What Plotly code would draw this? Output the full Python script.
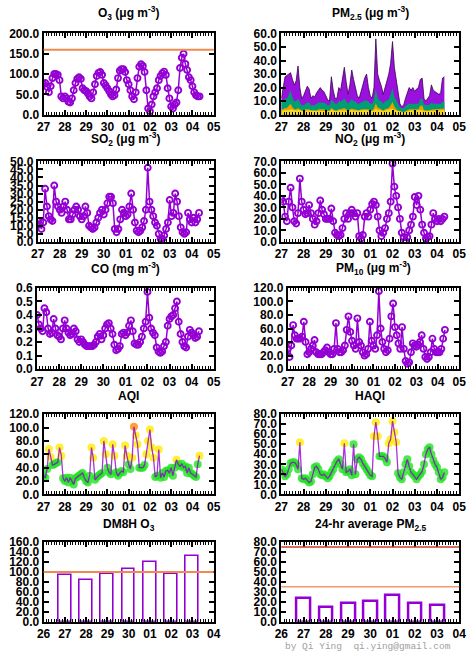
import plotly.graph_objects as go
import pandas as pd

W, H = 473, 659

# ---------------- data (2-hourly, from 27 00:00) ----------------
START = "2017-04-27 00:00"
hours = list(range(0, 177, 2))
times = pd.Timestamp(START) + pd.to_timedelta(hours, unit="h")

o3 = [75, 78, 68, 55, 70, 90, 100, 100, 98, 85,
      45, 40, 45, 40, 32, 30, 40, 60, 78, 88,
      92, 88, 65, 60, 58, 52, 45, 40, 55, 75,
      95, 103, 105, 98, 78, 72, 65, 58, 50, 45,
      48, 62, 90, 108, 112, 112, 105, 85, 75, 60,
      45, 38, 55, 90, 118, 124, 120, 105, 60, 15,
      8, 25, 45, 55, 65, 85, 95, 102, 106, 98,
      65, 40, 20, 15, 25, 30, 60, 115, 140, 150,
      125, 110, 92, 85, 70, 55, 48, 45, 45]
o3_limit = 160

pm25_total = [12, 22, 28, 29, 30, 31, 26, 22, 25, 36,
              20, 12, 14, 18, 21, 19, 12, 14, 13, 16,
              18, 20, 18, 17, 14, 11, 10, 28, 18, 12,
              12, 20, 18, 28, 35, 24, 15, 22, 33, 26,
              20, 14, 12, 18, 22, 27, 30, 20, 14, 12,
              20, 56, 30, 25, 21, 15, 20, 27, 30, 38,
              54, 35, 25, 15, 8, 6, 7, 12, 16, 20,
              18, 20, 17, 19, 20, 26, 27, 12, 10, 12,
              14, 22, 18, 17, 16, 15, 16, 27, 28]
pm25_yellow = [3, 3, 3.5, 3.5, 3.5, 4, 3.5, 3, 3, 3.5,
               3, 2.5, 2.5, 3, 3, 3, 2.5, 2.5, 2.5, 2.5,
               3, 3, 3, 3, 2.5, 2.5, 2.5, 3.5, 3, 2.5,
               2.5, 3, 3, 3.5, 3.5, 3, 2.5, 3, 3.5, 3,
               3, 2.5, 2.5, 3, 3, 3.5, 3.5, 3, 2.5, 2.5,
               3, 4.5, 3.5, 3.5, 3, 2.5, 3, 3.5, 3.5, 4,
               4.5, 3.5, 3, 2.5, 2, 1.5, 1.5, 2, 2.5, 3,
               3, 3, 3, 3, 3, 3.5, 3.5, 2.5, 2.5, 2.5,
               2.5, 3, 3, 3, 3, 3, 3, 3.5, 3.5]
pm25_orange = [1, 1, 1.5, 1.5, 3, 4, 2, 1, 1, 1.5,
               1, 0.5, 0.5, 1, 1, 1, 0.5, 0.5, 0.5, 0.5,
               1, 1, 1, 1, 0.5, 0.5, 0.5, 1.5, 1, 0.5,
               0.5, 1, 1, 1, 1.5, 1, 0.5, 1, 1, 1,
               1, 0.5, 0.5, 1, 1, 1, 1, 1, 0.5, 0.5,
               2, 4, 2, 1, 1, 0.5, 1, 1, 1.5, 3,
               5, 2.5, 1, 0.5, 0.5, 0.5, 0.5, 0.5, 1, 1,
               1, 1, 1, 1, 1, 3, 3.5, 1, 0.5, 0.5,
               1, 1, 1, 1, 1, 1, 1, 1, 1]
pm25_teal = [5, 6, 7, 7, 8, 10, 7, 6, 6, 7,
             5, 4, 4, 4, 5, 5, 4, 4, 4, 5,
             5, 5, 5, 5, 5, 4, 4, 6, 6, 5,
             5, 6, 6, 6, 7, 6, 5, 6, 7, 6,
             6, 5, 5, 5, 6, 6, 6, 6, 5, 5,
             6, 10, 7, 6, 6, 5, 6, 6, 6, 8,
             10, 7, 6, 5, 3, 2.5, 3, 4, 4, 4,
             4, 4, 4, 4, 4, 5, 5, 4, 4, 4,
             4, 5, 4, 4, 4, 4, 4, 5, 5]

so2 = [13, 11, 8, 12, 33, 22, 16, 14, 13, 35,
       25, 22, 20, 18, 22, 25, 20, 14, 14, 17,
       20, 22, 20, 16, 14, 16, 22, 18, 10, 9,
       8, 9, 12, 15, 18, 20, 17, 20, 24, 28,
       28, 24, 8, 6, 8, 14, 20, 18, 16, 17,
       22, 30, 20, 12, 7, 6, 7, 9, 13, 20,
       46, 25, 20, 16, 12, 10, 5, 2, 2, 4,
       8, 12, 26, 16, 18, 30, 25, 16, 9, 6,
       5, 6, 18, 14, 12, 15, 12, 14, 18]

no2 = [37, 35, 22, 18, 35, 47, 30, 18, 16, 25,
       55, 35, 28, 24, 25, 32, 25, 20, 15, 18,
       25, 36, 28, 24, 20, 20, 20, 29, 18, 8,
       6, 5, 6, 12, 20, 25, 20, 25, 28, 25,
       22, 25, 5, 3, 6, 22, 25, 22, 28, 33,
       35, 32, 22, 10, 5, 8, 12, 20, 25, 35,
       68, 48, 40, 30, 20, 8, 4, 1, 4, 10,
       15, 22, 39, 32, 40, 28, 15, 8, 3, 4,
       5, 15, 25, 20, 18, 20, 18, 20, 22]

co = [0.40, 0.33, 0.30, 0.28, 0.45, 0.42, 0.30, 0.26, 0.27, 0.37,
      0.30, 0.25, 0.24, 0.22, 0.30, 0.36, 0.30, 0.27, 0.25, 0.26,
      0.30, 0.28, 0.22, 0.20, 0.22, 0.20, 0.18, 0.17, 0.17, 0.17,
      0.17, 0.18, 0.20, 0.24, 0.26, 0.22, 0.25, 0.30, 0.33, 0.34,
      0.30, 0.26, 0.18, 0.14, 0.15, 0.17, 0.26, 0.27, 0.25, 0.27,
      0.32, 0.36, 0.28, 0.19, 0.18, 0.18, 0.20, 0.24, 0.30, 0.35,
      0.57, 0.38, 0.30, 0.27, 0.25, 0.16, 0.13, 0.12, 0.13, 0.17,
      0.20, 0.32, 0.37, 0.39, 0.40, 0.45, 0.50, 0.35, 0.26, 0.20,
      0.17, 0.16, 0.24, 0.29, 0.27, 0.25, 0.23, 0.24, 0.28]

pm10 = [30, 18, 35, 65, 50, 45, 45, 45, 48, 70,
        40, 22, 25, 30, 35, 43, 25, 22, 22, 22,
        25, 28, 32, 25, 22, 22, 30, 68, 30, 25,
        25, 28, 35, 58, 78, 55, 42, 35, 30, 75,
        40, 35, 25, 20, 22, 30, 70, 42, 35, 30,
        50, 115, 60, 40, 30, 25, 28, 45, 78, 97,
        62, 50, 38, 30, 62, 30, 12, 8, 10, 25,
        38, 35, 33, 36, 40, 50, 30, 18, 15, 18,
        25, 45, 30, 25, 25, 25, 30, 45, 58]

aqi = [28, 25, 38, 68, 56, 44, 45, 47, 48, 70,
       58, 24, 20, 25, 18, 25, 20, 15, 24, 26,
       28, 30, 32, 25, 20, 18, 28, 70, 55, 22,
       26, 28, 30, 32, 80, 60, 40, 33, 30, 75,
       58, 33, 28, 32, 35, 33, 73, 58, 45, 38,
       55, 101, 88, 75, 40, 40, 40, 44, 60, 80,
       97, 70, 55, 26, 28, 67, 25, 32, 26, 35,
       36, 32, 40, 28, 40, 52, 45, 42, 46, 40,
       42, 32, 40, 32, 30, 28, 26, 45, 58]

haqi = [25, 22, 18, 20, 25, 31, 32, 32, 30, 25,
        52, 16, 15, 16, 14, 12, 13, 20, 27, 28,
        25, 20, 19, 20, 18, 16, 18, 22, 25, 30,
        33, 35, 30, 25, 51, 22, 23, 25, 19, 50,
        20, 35, 37, 35, 31, 28, 25, 22, 19, 18,
        58, 72, 58, 38, 38, 38, 36, 32, 51, 55,
        73, 62, 52, 21, 17, 15, 22, 30, 35, 28,
        22, 20, 18, 15, 18, 20, 23, 30, 40, 45,
        47, 40, 34, 30, 27, 22, 15, 17, 22]

bar_days = pd.date_range("2017-04-27", periods=7, freq="D")
dm8h_o3 = [94, 83, 95, 106, 120, 95, 132]
dm8h_limit = 100
pm25_24h = [23.5, 15, 18.5, 20.5, 26.5, 18.5, 16.5]
pm25_24h_limits = [75, 35]

# ---------------- styling ----------------
PURPLE = "#9400d3"
FONT = "Liberation Sans"
DAY_MS = 86400000

def xdom(l, r):
    return [l / W, r / W]

def ydom(t, b):
    return [1 - b / H, 1 - t / H]

R = [(27, 110), (157.7, 240), (287, 370), (416, 498), (546.7, 628)]
TITLE_Y = [6.5, 134.5, 267, 397, 529]
panels = [
    (1, 37.7, 213, 0, [0, 200], 50, "O<sub>3</sub> (μg m<sup>-3</sup>)", "ts"),
    (2, 282.7, 466, 0, [0, 60], 10, "PM<sub>2.5</sub> (μg m<sup>-3</sup>)", "ts"),
    (3, 31.7, 213, 1, [0, 50], 5, "SO<sub>2</sub> (μg m<sup>-3</sup>)", "ts"),
    (4, 282.7, 466, 1, [0, 70], 10, "NO<sub>2</sub> (μg m<sup>-3</sup>)", "ts"),
    (5, 31, 213, 2, [0, 0.6], 0.1, "CO (mg m<sup>-3</sup>)", "ts"),
    (6, 289.3, 466, 2, [0, 120], 20, "PM<sub>10</sub> (μg m<sup>-3</sup>)", "ts"),
    (7, 37.7, 213, 3, [0, 120], 20, "AQI", "ts"),
    (8, 282.7, 466, 3, [0, 80], 10, "HAQI", "ts"),
    (9, 37.7, 213, 4, [0, 160], 20, "DM8H O<sub>3</sub>", "bar"),
    (10, 282.7, 466, 4, [0, 80], 10, "24-hr average PM<sub>2.5</sub>", "bar"),
]

tickfont = dict(family=FONT, size=12, color="black", weight="bold")
common = dict(showline=True, linecolor="black", linewidth=2, mirror="allticks",
              ticks="inside", ticklen=5, tickwidth=1.5, tickcolor="black",
              showgrid=False, zeroline=False, tickfont=tickfont, fixedrange=True)

fig = go.Figure()
layout = dict(width=W, height=H, margin=dict(l=0, r=0, t=0, b=0),
              paper_bgcolor="white", plot_bgcolor="white", showlegend=False)
annotations = []
for pid, xl, xr, row, yr, dt, title, kind in panels:
    sfx = "" if pid == 1 else str(pid)
    top, bot = R[row]
    if kind == "ts":
        xr_range = ["2017-04-27 00:00", "2017-05-05 00:00"]
        t0 = "2017-04-27"
    else:
        xr_range = ["2017-04-26 00:00", "2017-05-04 00:00"]
        t0 = "2017-04-26"
    layout["xaxis" + sfx] = dict(common, domain=xdom(xl, xr), anchor="y" + sfx,
                                 type="date", range=xr_range, tick0=t0, dtick=DAY_MS,
                                 tickformat="%d",
                                 minor=dict(ticks="inside", dtick=3 * 3600000, ticklen=3,
                                            tickwidth=1, tickcolor="black"))
    layout["yaxis" + sfx] = dict(common, domain=ydom(top, bot), anchor="x" + sfx,
                                 range=yr, dtick=dt, tick0=0, tickformat=".1f")
    annotations.append(dict(text=title, xref="paper", yref="paper",
                            x=(xl + xr) / 2 / W, y=1 - TITLE_Y[row] / H,
                            xanchor="center", yanchor="middle", showarrow=False,
                            font=dict(family=FONT, size=12, color="black", weight="bold")))

def ts_trace(y, pid):
    sfx = "" if pid == 1 else str(pid)
    return go.Scatter(x=times, y=y, mode="lines+markers", xaxis="x" + sfx, yaxis="y" + sfx,
                      line=dict(color=PURPLE, width=1.5),
                      marker=dict(symbol="circle-open", size=6, color=PURPLE,
                                  line=dict(width=1.9, color=PURPLE)))

fig.add_trace(ts_trace(o3, 1))
fig.add_trace(ts_trace(so2, 3))
fig.add_trace(ts_trace(no2, 4))
fig.add_trace(ts_trace(co, 5))
fig.add_trace(ts_trace(pm10, 6))

# PM2.5 layered areas: cumulative tops of the components, drawn from the top down
top_teal = [a + b + c for a, b, c in zip(pm25_yellow, pm25_orange, pm25_teal)]
top_orange = [a + b for a, b in zip(pm25_yellow, pm25_orange)]
fig.add_trace(go.Scatter(x=times, y=pm25_total, mode="lines", fill="tozeroy",
                         xaxis="x2", yaxis="y2", fillcolor="#9a10dc",
                         line=dict(width=0.8, color="#3a0050")))
for tops, col in [(top_teal, "#009e73"), (top_orange, "#e6a000"), (pm25_yellow, "#f2d62e")]:
    fig.add_trace(go.Scatter(x=times, y=tops, mode="lines", fill="tozeroy",
                             xaxis="x2", yaxis="y2", fillcolor=col,
                             line=dict(width=0, color=col)))

def cat_color(v):
    if v <= 50:
        return "#22e422"
    if v <= 100:
        return "#ffee00"
    return "#ff8800"

for vals, pid in [(aqi, 7), (haqi, 8)]:
    sfx = str(pid)
    fig.add_trace(go.Scatter(x=times, y=vals, mode="markers", xaxis="x" + sfx, yaxis="y" + sfx,
                             marker=dict(size=8, color=[cat_color(v) for v in vals],
                                         opacity=0.8, line=dict(width=0))))
    fig.add_trace(go.Scatter(x=times, y=vals, mode="lines", xaxis="x" + sfx, yaxis="y" + sfx,
                             line=dict(color=PURPLE, width=1.3), opacity=0.8))

fig.add_trace(go.Bar(x=bar_days, y=dm8h_o3, xaxis="x9", yaxis="y9", width=0.6 * DAY_MS,
                     marker=dict(color="white", line=dict(color=PURPLE, width=1.6))))
fig.add_trace(go.Bar(x=bar_days, y=pm25_24h, xaxis="x10", yaxis="y10", width=0.62 * DAY_MS,
                     marker=dict(color="white", line=dict(color=PURPLE, width=2.5))))

shapes = [
    dict(type="line", xref="x domain", yref="y", x0=0, x1=1, y0=o3_limit, y1=o3_limit,
         line=dict(color="#f08a50", width=2), layer="above"),
    dict(type="line", xref="x9 domain", yref="y9", x0=0, x1=1, y0=dm8h_limit, y1=dm8h_limit,
         line=dict(color="#f08a50", width=2), layer="above"),
    dict(type="line", xref="x10 domain", yref="y10", x0=0, x1=1,
         y0=pm25_24h_limits[0], y1=pm25_24h_limits[0],
         line=dict(color="#d03a2a", width=1.5), layer="above"),
    dict(type="line", xref="x10 domain", yref="y10", x0=0, x1=1,
         y0=pm25_24h_limits[1], y1=pm25_24h_limits[1],
         line=dict(color="#f09a70", width=1.5), layer="above"),
]

annotations.append(dict(text="by Qi Ying  qi.ying@gmail.com", xref="paper", yref="paper",
                        x=372 / W, y=1 - 653 / H, xanchor="center", yanchor="middle",
                        showarrow=False,
                        font=dict(family="Liberation Mono", size=9.5, color="#a0a0a0")))

layout["annotations"] = annotations
layout["shapes"] = shapes
layout["bargap"] = 0
fig.update_layout(**layout)
fig.write_html("out.html")
